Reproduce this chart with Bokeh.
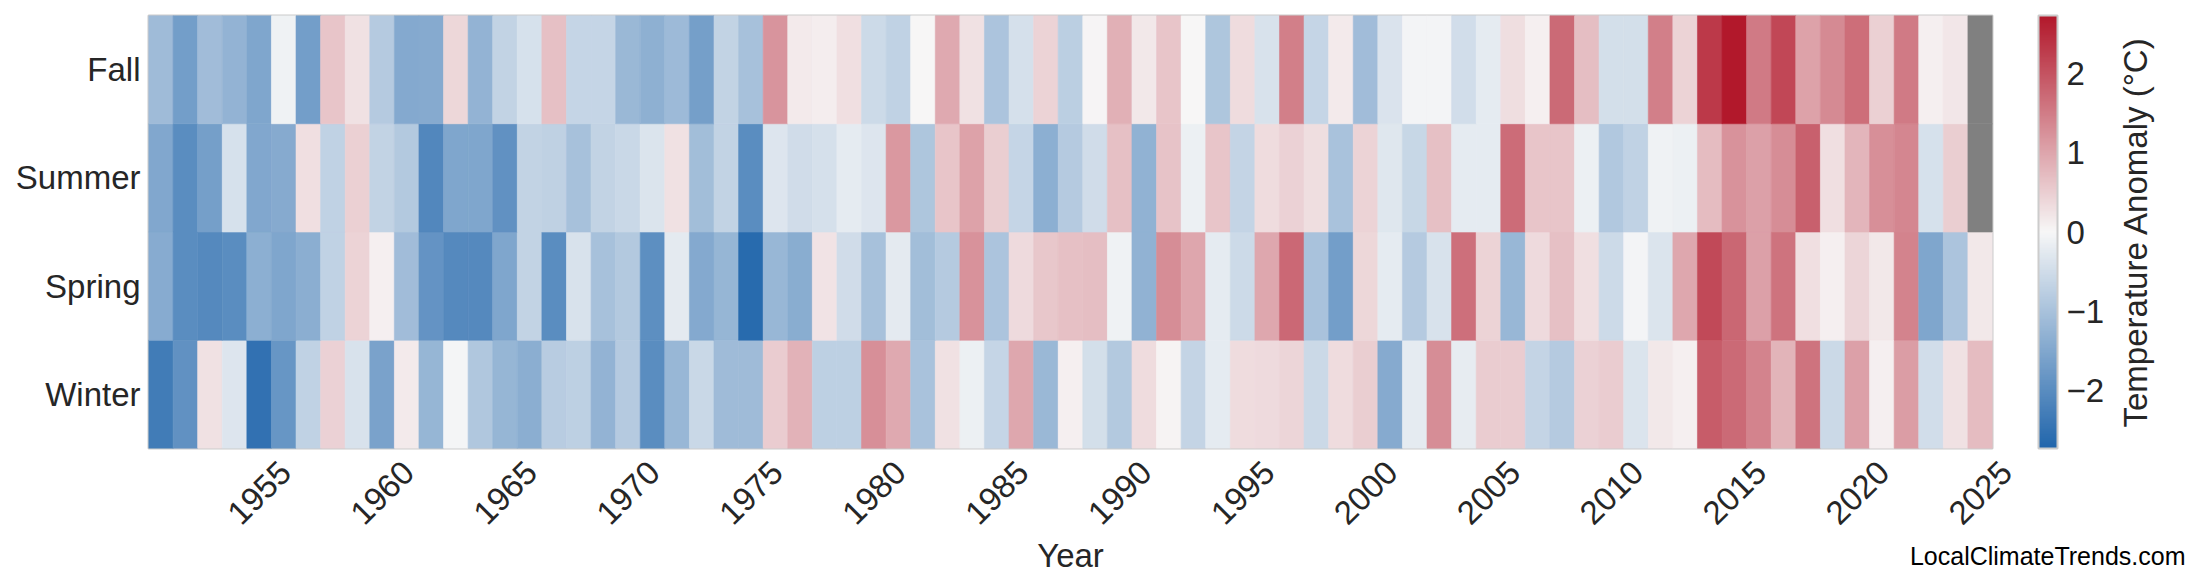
import math
import numpy as np
from bokeh.plotting import figure
from bokeh.models import (ColumnDataSource, LinearColorMapper, ColorBar, FixedTicker,
                          LinearAxis, Range1d, FactorRange, Label)
from bokeh.transform import transform
from bokeh.embed import file_html
from bokeh.resources import INLINE

# ---------------- data ----------------
years = list(range(1951, 2026))
seasons = ["Winter", "Spring", "Summer", "Fall"]

winter = [-2.33, -1.91, 0.27, -0.34, -2.52, -1.84, -0.69, 0.45, -0.39, -1.60,
          0.16, -1.24, -0.03, -0.90, -1.24, -1.38, -0.81, -0.74, -1.27, -0.85,
          -2.00, -1.21, -0.59, -1.13, -1.13, 0.53, 0.85, -0.74, -0.74, 1.28,
          0.95, -1.00, 0.27, -0.14, -0.63, 0.97, -1.18, 0.10, -0.45, -0.86,
          0.34, 0.05, -0.65, -0.22, 0.34, 0.35, 0.42, -0.56, 0.34, 0.50,
          -1.45, -0.22, 1.29, -0.20, 0.53, 0.53, -0.65, -0.85, 0.46, 0.53,
          -0.35, 0.19, 0.10, 1.89, 1.72, 1.42, 0.82, 1.62, -0.56, 1.06,
          0.10, 1.10, -0.49, 0.27, 0.72]

spring = [-1.42, -2.00, -2.07, -2.00, -1.36, -1.53, -1.38, -0.69, 0.44, 0.10,
          -1.10, -1.87, -2.07, -2.07, -1.52, -0.67, -2.00, -0.40, -1.01, -0.86,
          -1.95, -0.24, -1.47, -1.24, -2.65, -1.21, -1.40, 0.25, -0.50, -1.01,
          -0.25, -1.09, -0.85, 1.23, -0.95, 0.36, 0.59, 0.68, 0.69, -0.10,
          -1.29, 1.30, 1.00, -0.22, -0.55, 0.97, 1.74, -1.00, -1.69, 0.39,
          -0.22, -0.84, -0.39, 1.65, 0.43, -1.21, 0.36, 0.68, 0.29, -0.55,
          -0.05, -0.35, 0.97, 2.13, 1.76, 1.05, 1.62, 0.29, 0.10, 0.42,
          0.18, 1.42, -1.53, -0.95, 0.18]

summer = [-1.51, -2.00, -1.66, -0.42, -1.51, -1.45, 0.29, -0.69, 0.48, -0.67,
          -0.87, -2.10, -1.53, -1.52, -1.91, -0.67, -0.72, -1.01, -0.67, -0.59,
          -0.35, 0.26, -1.08, -0.68, -2.00, -0.34, -0.50, -0.44, -0.23, -0.33,
          1.16, -0.93, 0.60, 1.04, 0.50, -0.63, -1.36, -0.85, -0.50, 0.68,
          -1.29, 0.63, -0.14, 0.60, -0.65, 0.33, 0.47, 0.30, -1.00, 0.44,
          -0.30, -0.62, 0.67, -0.23, -0.23, 1.70, 0.62, 0.62, -0.14, -0.88,
          -0.69, -0.10, -0.14, 0.71, 1.23, 1.06, 1.29, 1.86, 0.29, 0.80,
          1.27, 1.37, -0.42, 0.50, None]

fall = [-1.13, -1.68, -1.10, -1.28, -1.52, -0.10, -1.68, 0.61, 0.27, -0.85,
        -1.47, -1.45, 0.39, -1.28, -0.67, -0.42, 0.68, -0.63, -0.63, -1.19,
        -1.33, -1.15, -1.66, -0.68, -1.01, 1.20, 0.17, 0.11, 0.28, -0.54,
        -0.69, 0.00, 0.95, 0.27, -0.95, -0.44, 0.44, -0.76, 0.03, 0.86,
        0.18, 0.61, 0.00, -0.93, 0.33, -0.40, 1.46, -0.63, 0.15, -1.10,
        -0.37, -0.05, -0.05, -0.49, -0.22, 0.30, 0.10, 1.72, 0.70, -0.45,
        -0.45, 1.46, 0.43, 2.32, 2.74, 1.54, 2.16, 1.03, 1.33, 1.67,
        0.48, 1.52, 0.10, 0.21, None]

tick_years = list(range(1955, 2026, 5))
tick_labels = [str(t) for t in tick_years]
cbar_ticks = [-2, -1, 0, 1, 2]
cbar_tick_labels = ["\u22122", "\u22121", "0", "1", "2"]
vmax = 2.74

# ---------------- palette (blue - white - red) ----------------
def _hex(c):
    return [int(c[i:i + 2], 16) for i in (1, 3, 5)]

def _lerp(c1, c2, t):
    a, b = _hex(c1), _hex(c2)
    return "#%02x%02x%02x" % tuple(int(round(a[k] + (b[k] - a[k]) * t)) for k in range(3))

palette = []
for i in range(256):
    t = i / 255
    if t <= 0.5:
        palette.append(_lerp("#2166ac", "#f7f7f7", t / 0.5))
    else:
        palette.append(_lerp("#f7f7f7", "#b2182b", (t - 0.5) / 0.5))

mapper = LinearColorMapper(palette=palette, low=-vmax, high=vmax, nan_color="#808080")

# ---------------- source ----------------
xs, ys, vals = [], [], []
for name, series in zip(seasons, [winter, spring, summer, fall]):
    for yr, v in zip(years, series):
        xs.append(yr)
        ys.append(name)
        vals.append(np.nan if v is None else v)
src = ColumnDataSource(dict(year=xs, season=ys, val=np.array(vals, dtype=float)))

FONT = "Liberation Sans"
TXT = "#262626"

p = figure(frame_width=1844, frame_height=433,
           x_range=Range1d(1950.5, 2025.5), y_range=FactorRange(*seasons),
           x_axis_location=None,
           min_border_left=148, min_border_right=204, min_border_top=15, min_border_bottom=128,
           output_backend="svg", toolbar_location=None)

p.rect(x="year", y="season", width=1, height=1, source=src,
       fill_color=transform("val", mapper), line_color=transform("val", mapper), line_width=0.6)

p.xgrid.visible = False
p.ygrid.visible = False
p.outline_line_color = "#cccccc"
p.outline_line_width = 2
p.background_fill_color = "white"

ya = p.yaxis[0]
ya.axis_line_color = None
ya.major_tick_line_color = None
ya.minor_tick_line_color = None
ya.major_tick_out = 0
ya.major_label_text_font = FONT
ya.major_label_text_font_size = "33px"
ya.major_label_text_color = TXT
ya.major_label_standoff = 8

# x axis: carries the "Year" title; the rotated year labels are centred on their columns
xa = LinearAxis(ticker=FixedTicker(ticks=[]), axis_label="Year")
xa.axis_line_color = None
xa.major_tick_line_color = None
xa.minor_tick_line_color = None
xa.major_tick_out = 0
xa.major_tick_in = 0
xa.axis_label_text_font = FONT
xa.axis_label_text_font_size = "33px"
xa.axis_label_text_font_style = "normal"
xa.axis_label_text_color = TXT
xa.axis_label_standoff = 88
p.add_layout(xa, "below")

for yr, lab in zip(tick_years, tick_labels):
    p.add_layout(Label(x=yr, y=0, y_offset=-44, text=lab, angle=math.pi / 4,
                       text_align="center", text_baseline="middle",
                       text_font=FONT, text_font_size="33px", text_color=TXT), "below")

cb = ColorBar(color_mapper=mapper, ticker=FixedTicker(ticks=cbar_ticks),
              major_label_overrides=dict(zip(cbar_ticks, cbar_tick_labels)),
              width=19, padding=0, margin=0, location=(46, 0),
              label_standoff=9, major_tick_line_color=None, minor_tick_line_color=None,
              major_tick_out=0,
              major_label_text_font=FONT, major_label_text_font_size="33px",
              major_label_text_color=TXT,
              bar_line_color="#cccccc", bar_line_width=2,
              border_line_color=None, background_fill_color=None)
p.add_layout(cb, "right")

p.add_layout(Label(x=2025.5, y=2, x_offset=143, text="Temperature Anomaly (\u00b0C)",
                   angle=math.pi / 2, text_align="center", text_baseline="alphabetic",
                   text_font=FONT, text_font_size="33px", text_color=TXT), "right")

p.add_layout(Label(x=2025.5, y=0, x_offset=193, y_offset=-107,
                   text="LocalClimateTrends.com", text_align="right", text_baseline="alphabetic",
                   text_font=FONT, text_font_size="25px", text_color="#000000"), "below")

open("out.html", "w").write(file_html(p, INLINE))
